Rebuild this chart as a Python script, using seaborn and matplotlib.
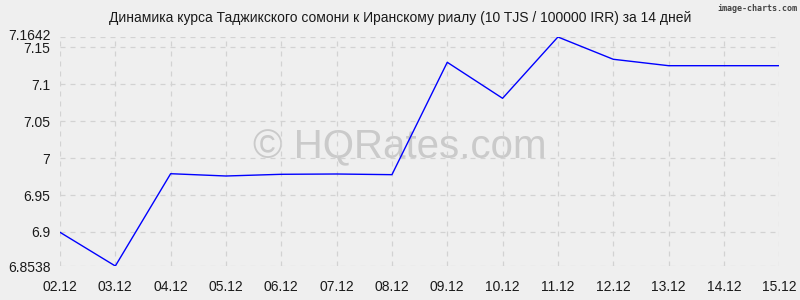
import matplotlib
matplotlib.use("Agg")
import matplotlib.pyplot as plt
import matplotlib.transforms as mtransforms
import seaborn as sns
import pandas as pd

dates = ["02.12", "03.12", "04.12", "05.12", "06.12", "07.12", "08.12",
         "09.12", "10.12", "11.12", "12.12", "13.12", "14.12", "15.12"]
rates = [6.8995, 6.8538, 6.9789, 6.9758, 6.9781, 6.9785, 6.9776,
         7.1299, 7.0811, 7.1642, 7.1340, 7.1253, 7.1253, 7.1253]
y_ticks = [6.8538, 6.9, 6.95, 7.0, 7.05, 7.1, 7.15, 7.1642]
y_tick_labels = ["6.8538", "6.9", "6.95", "7", "7.05", "7.1", "7.15", "7.1642"]
title = "Динамика курса Таджикского сомони к Иранскому риалу (10 TJS / 100000 IRR) за 14 дней"

sns.set_theme(style="white")
plt.rcParams["font.family"] = ["Liberation Sans", "DejaVu Sans"]

bg = "#efefef"
df = pd.DataFrame({"pos": range(len(dates)), "rate": rates})

fig = plt.figure(figsize=(8, 3), dpi=100, facecolor=bg)
ax = fig.add_axes([0.075, 0.1133, 0.899, 0.7634])
ax.set_facecolor(bg)

sns.lineplot(data=df, x="pos", y="rate", ax=ax, color="#0000ff", linewidth=1.0)

ax.set_xlim(0, len(dates) - 1)
ax.set_ylim(min(y_ticks), max(y_ticks))
ax.set_xticks(range(len(dates)))
ax.set_xticklabels(dates)
ax.set_yticks(y_ticks)
ax.set_yticklabels(y_tick_labels)
ax.set_xlabel("")
ax.set_ylabel("")

for s in ax.spines.values():
    s.set_visible(False)

ax.grid(True, color="#d2d2d2", linestyle=(0, (4, 4)), linewidth=0.9)
ax.set_axisbelow(True)
ax.tick_params(axis="both", which="both", length=4, color="#d2d2d2",
               labelsize=10, labelcolor="#1a1a1a", pad=3)
ax.tick_params(axis="x", pad=6)

# nudge the top tick label slightly upward (as in the reference the two labels nearly touch)
fig.canvas.draw()
top_lbl = ax.get_yticklabels()[-1]
top_lbl.set_transform(top_lbl.get_transform() +
                      mtransforms.ScaledTranslation(0, 2 / 72, fig.dpi_scale_trans))

fig.text(0.5, 0.94, title, ha="center", va="center", fontsize=10, color="#1a1a1a")
fig.text(0.997, 0.973, "image-charts.com", ha="right", va="center",
         fontsize=6, fontweight="bold", color="#444444",
         family=["DejaVu Sans Mono", "DejaVu Sans"])
ax.text(0.473, 0.52, "© HQRates.com", transform=ax.transAxes, ha="center", va="center",
        fontsize=29, color="#c6c6c6", alpha=0.9, zorder=0)

fig.savefig("out.png", dpi=100, facecolor=bg)
